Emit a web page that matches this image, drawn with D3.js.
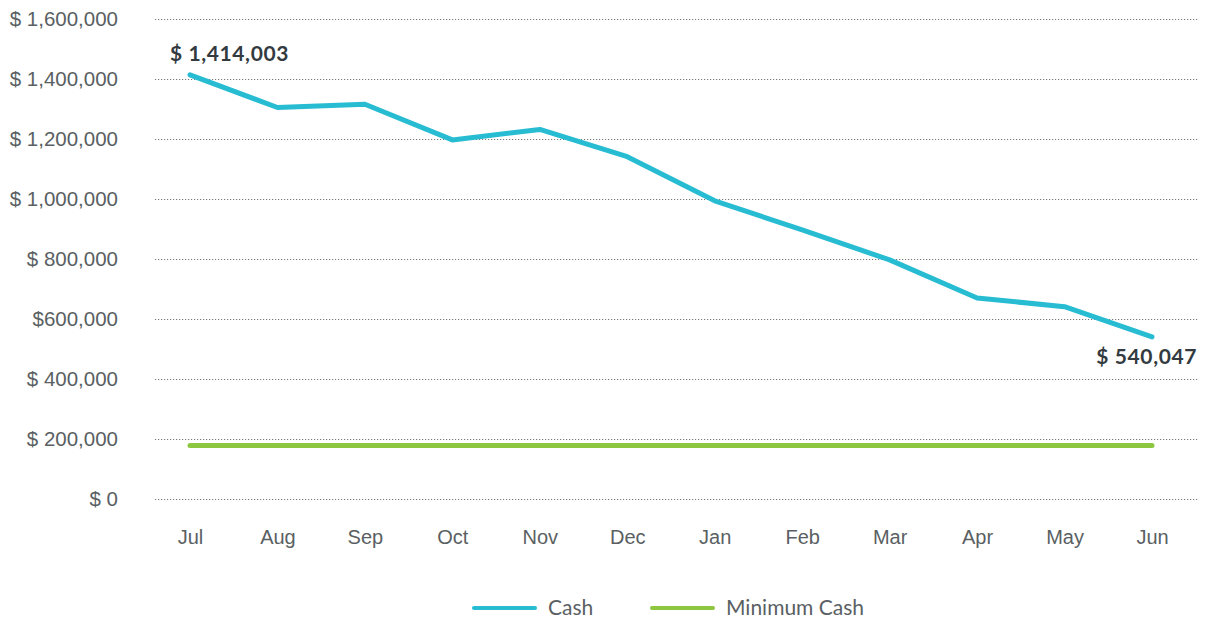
<!DOCTYPE html>
<html>
<head>
<meta charset="utf-8">
<script src="https://cdn.jsdelivr.net/npm/d3@7"></script>
<style>
  html, body { margin: 0; padding: 0; background: #fff; }
  svg { display: block; font-family: Lato, "Open Sans", sans-serif; }
</style>
</head>
<body>
<svg id="chart" width="1207" height="624"></svg>
<script>
'use strict';

// ── Data ──────────────────────────────────────────────────────────────────
const months      = ['Jul', 'Aug', 'Sep', 'Oct', 'Nov', 'Dec', 'Jan', 'Feb', 'Mar', 'Apr', 'May', 'Jun'];
const cash        = [1414003, 1305000, 1316000, 1197000, 1232000, 1141000, 994000, 897000, 797000, 670000, 641000, 540047];
const minimumCash = [178000, 178000, 178000, 178000, 178000, 178000, 178000, 178000, 178000, 178000, 178000, 178000];
const yTicks      = [0, 200000, 400000, 600000, 800000, 1000000, 1200000, 1400000, 1600000];
const yTickLabels = ['$ 0', '$ 200,000', '$ 400,000', '$600,000', '$ 800,000', '$ 1,000,000', '$ 1,200,000', '$ 1,400,000', '$ 1,600,000'];
const endLabels   = ['$ 1,414,003', '$ 540,047'];
const seriesNames = ['Cash', 'Minimum Cash'];

const CASH_COL = '#27bcd2';
const MIN_COL  = '#8dc63f';
const TEXT_COL = '#5a5f63';

const svg = d3.select('#chart');

// ── Scales ────────────────────────────────────────────────────────────────
const x = d3.scalePoint().domain(months).range([190, 1152]);
const y = d3.scaleLinear().domain([0, 1600000]).range([499, 19]);

// ── Grid + y labels ───────────────────────────────────────────────────────
const yAxis = d3.axisLeft(y)
  .tickValues(yTicks)
  .tickSize(-(1198 - 155))
  .tickPadding(37)
  .tickFormat((d, i) => yTickLabels[i]);

svg.append('g')
  .attr('transform', 'translate(155,0)')
  .call(yAxis)
  .call(ax => ax.select('.domain').remove())
  .call(ax => ax.selectAll('line')
    .attr('stroke', '#777')
    .attr('stroke-width', 1)
    .attr('stroke-dasharray', '1.2,1.8'))
  .call(ax => ax.selectAll('text')
    .attr('fill', TEXT_COL)
    .attr('font-size', '20.5px')
    .attr('dy', '0.34em'));

// ── x labels ──────────────────────────────────────────────────────────────
const xAxis = d3.axisBottom(x).tickSize(0).tickPadding(0);
svg.append('g')
  .attr('transform', 'translate(0,544)')
  .call(xAxis)
  .call(ax => ax.select('.domain').remove())
  .call(ax => ax.selectAll('text')
    .attr('fill', TEXT_COL)
    .attr('font-size', '20px')
    .attr('dy', '0'));

// ── Lines ─────────────────────────────────────────────────────────────────
const line = d3.line().x((d, i) => x(months[i])).y(d => y(d));

svg.append('path')
  .datum(minimumCash)
  .attr('d', line)
  .attr('fill', 'none')
  .attr('stroke', MIN_COL)
  .attr('stroke-width', 5)
  .attr('stroke-linecap', 'round');

svg.append('path')
  .datum(cash)
  .attr('d', line)
  .attr('fill', 'none')
  .attr('stroke', CASH_COL)
  .attr('stroke-width', 5)
  .attr('stroke-linejoin', 'round')
  .attr('stroke-linecap', 'round');

// ── End labels ────────────────────────────────────────────────────────────
svg.append('text')
  .attr('x', x(months[0]) - 20)
  .attr('y', y(cash[0]) - 14)
  .attr('fill', '#333a40')
  .attr('font-size', '21px')
  .attr('letter-spacing', '0.6px')
  .attr('font-weight', 'bold')
  .text(endLabels[0]);

svg.append('text')
  .attr('x', 1197)
  .attr('y', y(cash[cash.length - 1]) + 27)
  .attr('text-anchor', 'end')
  .attr('fill', '#333a40')
  .attr('font-size', '21px')
  .attr('letter-spacing', '0.6px')
  .attr('font-weight', 'bold')
  .text(endLabels[1]);

// ── Legend ────────────────────────────────────────────────────────────────
const legendItems = [
  { name: seriesNames[0], color: CASH_COL, x: 474 },
  { name: seriesNames[1], color: MIN_COL,  x: 652 }
];
const lg = svg.append('g').attr('transform', 'translate(0,608)');
legendItems.forEach(it => {
  lg.append('line')
    .attr('x1', it.x).attr('x2', it.x + 61)
    .attr('y1', 0).attr('y2', 0)
    .attr('stroke', it.color)
    .attr('stroke-width', 4)
    .attr('stroke-linecap', 'round');
  lg.append('text')
    .attr('x', it.x + 74)
    .attr('y', 0)
    .attr('dy', '0.35em')
    .attr('fill', TEXT_COL)
    .attr('font-size', '21px')
    .text(it.name);
});
</script>
</body>
</html>
